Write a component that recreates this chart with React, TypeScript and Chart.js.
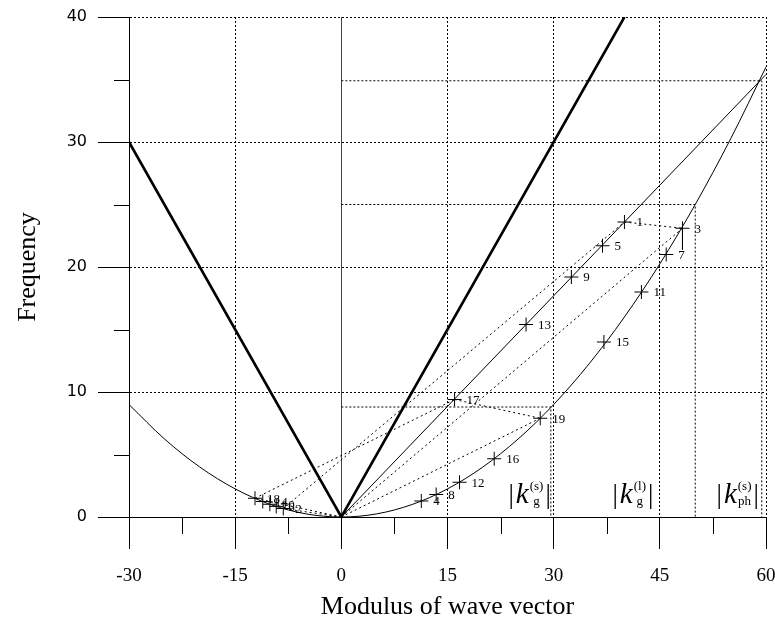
import React, { useEffect, useRef } from 'react';
import { Chart, registerables } from 'chart.js';

Chart.register(...registerables);

// ---- axis ticks ----
const xTickValues = [-30, -15, 0, 15, 30, 45, 60];
const yTickValues = [0, 10, 20, 30, 40];
const xMinorTicks = [-22.5, -7.5, 7.5, 22.5, 37.5, 52.5];
const yMinorTicks = [5, 15, 25, 35];

// ---- curves ----
const thickX = [-30, 0, 40];
const thickY = [30, 0, 40];
const thinX = [0, 60];
const thinY = [0, 35.4];
const parabolaX = [-30, -25, -20, -15, -10, -5, 0, 5, 10, 15, 20, 25, 30, 35, 40, 45, 50, 55, 60];
const parabolaY = [9, 6.25, 4, 2.25, 1, 0.25, 0, 0.25, 1, 2.25, 4, 6.25, 9, 12.25, 16, 20.25, 25, 30.25, 36];

// ---- numbered points ----
const pointLabels = ['1', '3', '5', '7', '9', '11', '13', '15', '17', '19', '2', '6', '10', '14', '18', '4', '8', '12', '16'];
const pointX = [40.0, 48.2, 36.9, 45.9, 32.5, 42.4, 26.1, 37.1, 16.0, 28.1, -8.2, -9.2, -10.1, -11.1, -12.2, 11.3, 13.4, 16.7, 21.6];
const pointY = [23.6, 23.1, 21.7, 21.0, 19.2, 18.0, 15.4, 14.0, 9.4, 7.9, 0.68, 0.85, 1.02, 1.24, 1.5, 1.28, 1.8, 2.78, 4.66];

// ---- construction (dotted) segments: [x1, y1, x2, y2] ----
const constructionSegments: number[][] = [
  [0, 0, 48.2, 23.1],
  [-8.2, 0.68, 40.0, 23.6],
  [40.0, 23.6, 48.2, 23.1],
  [0, 0, -8.2, 0.68],
  [0, 0, 28.1, 7.9],
  [-12.2, 1.5, 16.0, 9.4],
  [16.0, 9.4, 28.1, 7.9],
  [0, 0, -12.2, 1.5],
];
const leaderSegment = [48.2, 23.1, 48.2, 21.4];

// ---- characteristic wave vectors ----
const kValues = [29.6, 50, 59.4];
const kFrequencies = [8.8, 25, 34.9];
const kLabelX = [26.6, 41.2, 56.0];
const kLabelSub = ['g', 'g', 'ph'];
const kLabelSup = ['(s)', '(l)', '(s)'];

const SERIF = '"Liberation Serif", "Times New Roman", serif';

function drawK(ctx: CanvasRenderingContext2D, cx: number, base: number, sub: string, sup: string) {
  const big = `27px ${SERIF}`;
  const ital = `italic 29px ${SERIF}`;
  const small = `13px ${SERIF}`;
  ctx.font = big;
  const wBar = ctx.measureText('|').width;
  ctx.font = ital;
  const wK = ctx.measureText('k').width;
  ctx.font = small;
  const wSup = ctx.measureText(sup).width;
  const wSub = ctx.measureText(sub).width;
  const wS = Math.max(wSup, wSub);
  const total = wBar + 2 + wK + 1 + wS + 2 + wBar;
  let x0 = cx - total / 2;
  ctx.textAlign = 'left';
  ctx.textBaseline = 'alphabetic';
  ctx.font = big;
  ctx.fillText('|', x0, base);
  x0 += wBar + 2;
  ctx.font = ital;
  ctx.fillText('k', x0, base);
  x0 += wK + 1;
  ctx.font = small;
  ctx.fillText(sup, x0, base - 13);
  ctx.fillText(sub, x0 + (wS - wSub) / 2, base + 2);
  x0 += wS + 2;
  ctx.font = big;
  ctx.fillText('|', x0, base);
}

const annotationPlugin = {
  id: 'annotations',
  afterDatasetsDraw(chart: any) {
    const { ctx, chartArea } = chart;
    const xs = chart.scales.x;
    const ys = chart.scales.y;
    ctx.save();
    ctx.strokeStyle = '#000';
    ctx.lineWidth = 1;
    ctx.setLineDash([]);
    xMinorTicks.forEach((v) => {
      const px = Math.round(xs.getPixelForValue(v)) + 0.5;
      ctx.beginPath();
      ctx.moveTo(px, chartArea.bottom);
      ctx.lineTo(px, chartArea.bottom + 17);
      ctx.stroke();
    });
    yMinorTicks.forEach((v) => {
      const py = Math.round(ys.getPixelForValue(v)) + 0.5;
      ctx.beginPath();
      ctx.moveTo(chartArea.left - 15, py);
      ctx.lineTo(chartArea.left, py);
      ctx.stroke();
    });
    ctx.fillStyle = '#000';
    ctx.font = `13px ${SERIF}`;
    ctx.textAlign = 'left';
    ctx.textBaseline = 'middle';
    pointLabels.forEach((t, i) => {
      ctx.fillText(t, xs.getPixelForValue(pointX[i]) + 12, ys.getPixelForValue(pointY[i]) + 1);
    });
    kLabelX.forEach((kx, i) => {
      drawK(ctx, xs.getPixelForValue(kx), chartArea.bottom - 14, kLabelSub[i], kLabelSup[i]);
    });
    ctx.restore();
  },
};

function lineDataset(xsArr: number[], ysArr: number[], extra: any) {
  return {
    data: xsArr.map((x, i) => ({ x, y: ysArr[i] })),
    showLine: true,
    pointRadius: 0,
    borderColor: '#000',
    backgroundColor: '#000',
    borderWidth: 1,
    ...extra,
  };
}

export default function App() {
  const canvasRef = useRef<HTMLCanvasElement | null>(null);

  useEffect(() => {
    if (!canvasRef.current) return;
    const datasets: any[] = [];
    constructionSegments.forEach((s) => {
      datasets.push(lineDataset([s[0], s[2]], [s[1], s[3]], { borderDash: [2, 3], borderWidth: 1 }));
    });
    kValues.forEach((k, i) => {
      datasets.push(
        lineDataset([0, k, k], [kFrequencies[i], kFrequencies[i], 0], { borderDash: [2, 2], borderWidth: 1 })
      );
    });
    datasets.push(lineDataset(thickX, thickY, { borderWidth: 2.6 }));
    datasets.push(lineDataset(thinX, thinY, { borderWidth: 1 }));
    datasets.push(lineDataset(parabolaX, parabolaY, { borderWidth: 1, cubicInterpolationMode: 'monotone' }));
    datasets.push(lineDataset([leaderSegment[0], leaderSegment[2]], [leaderSegment[1], leaderSegment[3]], { borderWidth: 1 }));
    datasets.push({
      data: pointX.map((x, i) => ({ x, y: pointY[i] })),
      showLine: false,
      pointStyle: 'cross',
      pointRadius: 7,
      pointBorderWidth: 1,
      pointBorderColor: '#000',
      pointBackgroundColor: '#000',
    });

    const isSolid = (c: any) => !c.tick || c.tick.value === 0 || c.tick.value === -30;

    const chart = new Chart(canvasRef.current, {
      type: 'scatter',
      data: { datasets },
      options: {
        animation: false,
        responsive: false,
        devicePixelRatio: 1,
        layout: { padding: { left: 0, right: 9, top: 17, bottom: 0 } },
        plugins: { legend: { display: false }, tooltip: { enabled: false } },
        scales: {
          x: {
            type: 'linear',
            min: -30,
            max: 60,
            afterBuildTicks: (s: any) => {
              s.ticks = xTickValues.map((v) => ({ value: v }));
            },
            afterFit: (s: any) => {
              s.height = 112;
              s.paddingLeft = 0;
              s.paddingRight = 0;
            },
            ticks: {
              color: '#000',
              font: { family: SERIF, size: 19 },
              padding: 16,
              maxRotation: 0,
              autoSkip: false,
            },
            grid: {
              color: (c: any) => (c.tick && c.tick.value === 0 ? '#444' : '#000'),
              lineWidth: 1,
              tickLength: 32,
              tickColor: '#000',
              tickWidth: 1,
            },
            border: {
              display: true,
              color: '#000',
              width: 1,
              dash: (c: any) => (isSolid(c) ? [] : [2, 2]),
            },
            title: {
              display: true,
              text: 'Modulus of wave vector',
              color: '#000',
              font: { family: SERIF, size: 26, weight: 'normal' },
              padding: { top: 0, bottom: 6 },
            },
          },
          y: {
            type: 'linear',
            min: 0,
            max: 40,
            afterBuildTicks: (s: any) => {
              s.ticks = yTickValues.map((v) => ({ value: v }));
            },
            afterFit: (s: any) => {
              s.width = 129;
              s.paddingTop = 0;
              s.paddingBottom = 0;
            },
            ticks: {
              color: '#000',
              font: { family: '"DejaVu Sans", sans-serif', size: 16 },
              padding: 11,
              autoSkip: false,
            },
            grid: {
              color: '#000',
              lineWidth: 1,
              tickLength: 31,
              tickColor: '#000',
              tickWidth: 1,
            },
            border: {
              display: true,
              color: '#000',
              width: 1,
              dash: (c: any) => (isSolid(c) ? [] : [2, 2]),
            },
            title: {
              display: true,
              text: 'Frequency',
              color: '#000',
              font: { family: SERIF, size: 26, weight: 'normal' },
              padding: { top: 13, bottom: 0 },
            },
          },
        },
      } as any,
      plugins: [annotationPlugin],
    });
    return () => chart.destroy();
  }, []);

  return (
    <div style={{ position: 'absolute', left: 0, top: 0, width: 775, height: 629, background: '#fff' }}>
      <canvas ref={canvasRef} width={775} height={629} style={{ display: 'block' }} />
    </div>
  );
}
